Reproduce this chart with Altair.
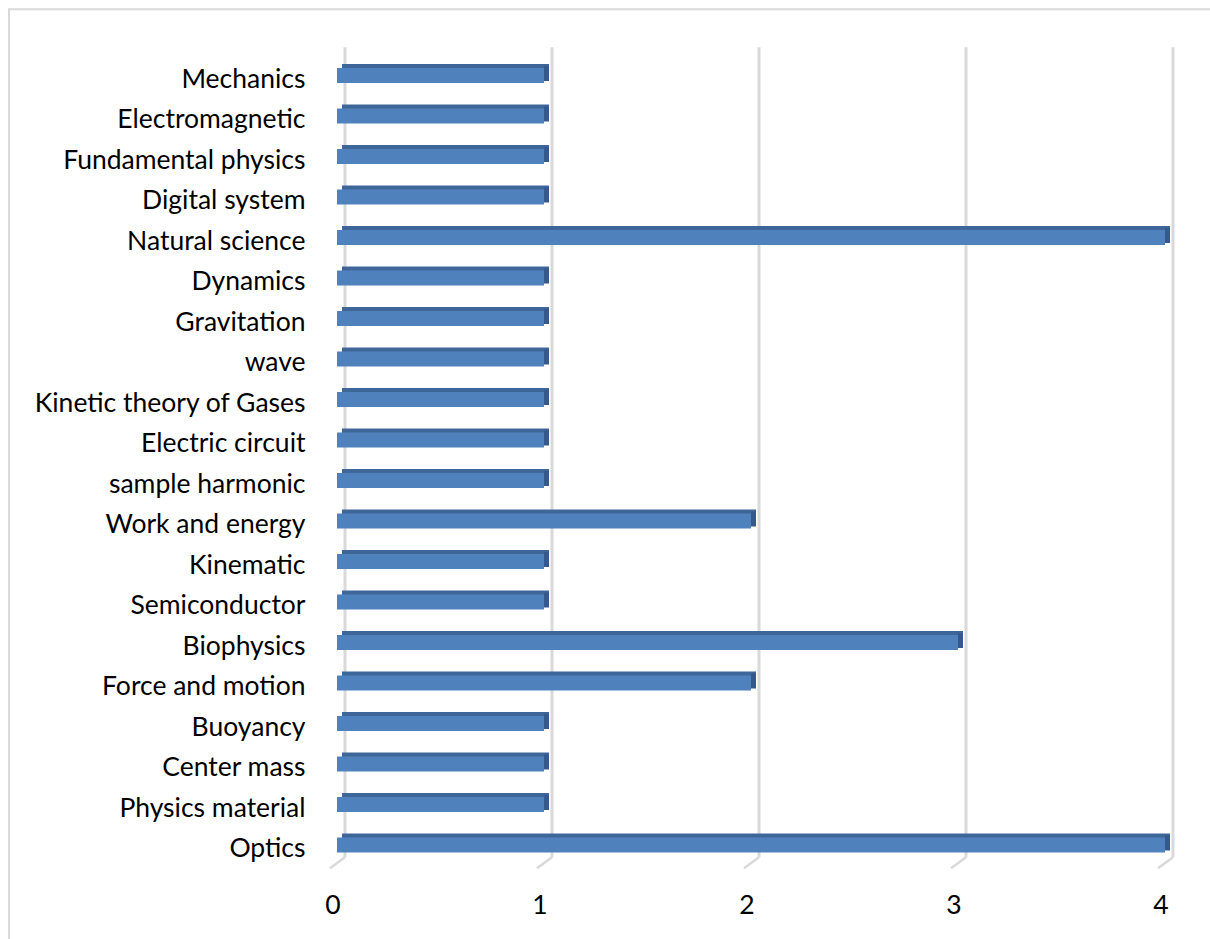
import altair as alt
import pandas as pd

topics = [
    "Mechanics", "Electromagnetic ", "Fundamental physics", "Digital system",
    "Natural science", "Dynamics", "Gravitation", "wave",
    "Kinetic theory of Gases", "Electric circuit", "sample harmonic",
    "Work and energy", "Kinematic", "Semiconductor", "Biophysics",
    "Force and motion", "Buoyancy", "Center mass", "Physics material", "Optics",
]
counts = [1, 1, 1, 1, 4, 1, 1, 1, 1, 1, 1, 2, 1, 1, 3, 2, 1, 1, 1, 4]
ticks = [0, 1, 2, 3, 4]

df = pd.DataFrame({"topic": topics, "count": counts})
grid = pd.DataFrame({"tick": ticks})
frame = pd.DataFrame({"k": [0]})

W, H = 828, 810
FONT = "Lato"
FS = 26.5

xs = alt.Scale(domain=[0, 4], nice=False, zero=True)
ys = alt.Scale(domain=topics, paddingInner=0, paddingOuter=0)

x_axis = alt.Axis(values=ticks, title=None, domain=False, ticks=False, grid=False,
                  labelOffset=-4.5, labelPadding=27, labelFont=FONT, labelFontSize=FS,
                  labelColor="#000000", format="d", labelFlush=False)
y_axis = alt.Axis(title=None, domain=False, ticks=False, grid=False,
                  labelPadding=32, labelFont=FONT, labelFontSize=FS, labelOffset=4,
                  labelColor="#000000", labelLimit=400,
                  labelExpr="slice(datum.label, -1) == ' ' ? slice(datum.label, 0, -1) + '\u00a0' : datum.label")

border = alt.Chart(frame).mark_rect(filled=False, stroke="#D9D9D9", strokeWidth=2).encode(
    x=alt.value(-328), y=alt.value(-46), x2=alt.value(W + 80), y2=alt.value(H + 120)
)

gridlines = alt.Chart(grid).mark_rule(color="#D9D9D9", strokeWidth=3, xOffset=8).encode(
    x=alt.X("tick:Q", scale=xs, axis=x_axis),
    y=alt.value(-8), y2=alt.value(802),
)
diag = alt.Chart(grid).mark_rule(color="#D9D9D9", strokeWidth=2.5, xOffset=8, x2Offset=-7).encode(
    x=alt.X("tick:Q", scale=xs, axis=x_axis),
    x2="tick:Q",
    y=alt.value(802), y2=alt.value(813),
)

y_enc = alt.Y("topic:N", sort=topics, scale=ys, axis=y_axis)

back = alt.Chart(df).mark_bar(size=15, color="#3E6698", xOffset=5, x2Offset=5,
                               yOffset=-4, y2Offset=-4).encode(
    x=alt.X("count:Q", scale=xs, axis=x_axis), y=y_enc
)
side = alt.Chart(df).mark_bar(size=15, color="#35598A", xOffset=0, x2Offset=5,
                               yOffset=-2, y2Offset=-2).encode(
    x=alt.X("count:Q", scale=xs, axis=x_axis), x2="count:Q", y=y_enc
)
front = alt.Chart(df).mark_bar(size=15, color="#4F81BD").encode(
    x=alt.X("count:Q", scale=xs, axis=x_axis), y=y_enc
)

chart = alt.layer(border, gridlines, diag, back, side, front).properties(
    width=W, height=H,
    autosize=alt.AutoSizeParams(type="none"),
    padding={"left": 337, "top": 55.25, "right": 45, "bottom": 73.75},
    background="white",
).configure_view(stroke=None)

chart.save("out.html", embed_options={"renderer": "svg", "actions": False})
